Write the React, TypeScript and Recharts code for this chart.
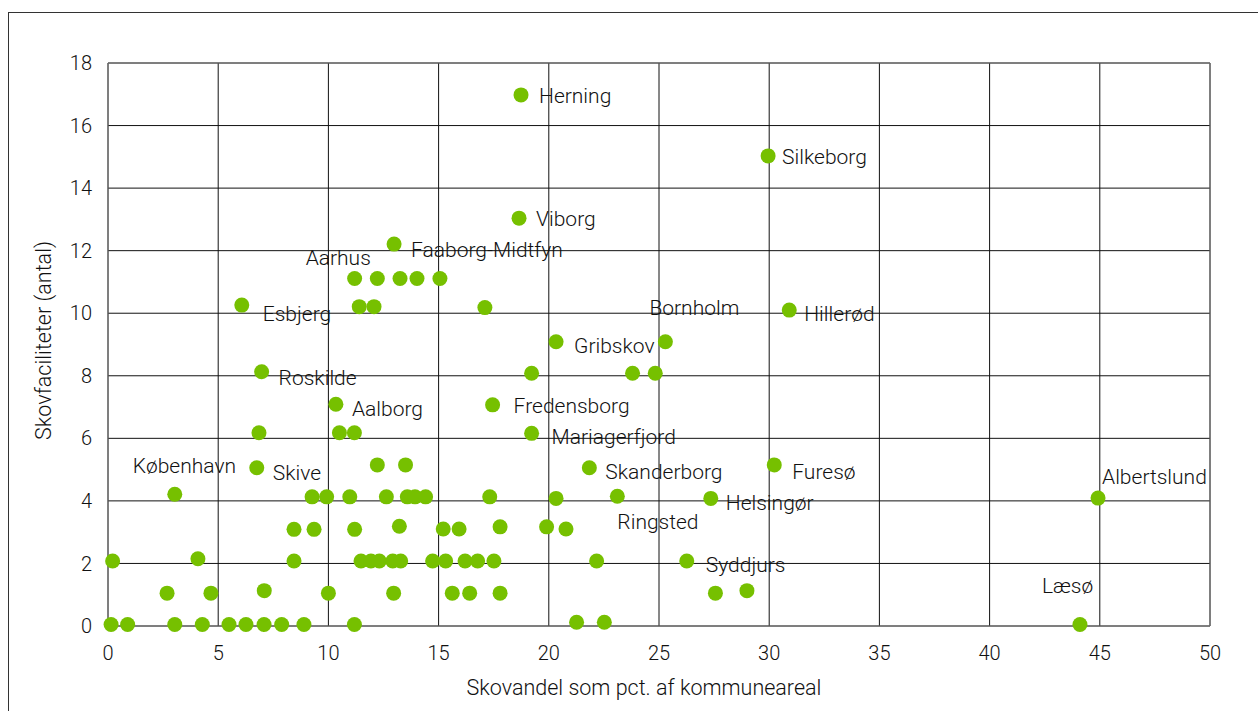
import React from 'react';
import { ScatterChart, Scatter, XAxis, YAxis, CartesianGrid, ReferenceLine, Label } from 'recharts';

// skovandel (pct. af kommuneareal)
const SHARE = [
  0.14, 0.89, 3.03, 4.28, 5.49, 6.26, 7.08, 7.88, 8.89, 11.18, 21.26, 22.52, 44.1,
  2.68, 4.67, 7.09, 10.0, 12.96, 15.62, 16.41, 17.79, 27.56, 28.99,
  0.21, 4.08, 8.44, 11.48, 11.93, 12.31, 12.92, 13.28, 14.73, 15.32, 16.2, 16.77, 17.51, 22.17, 26.26,
  8.44, 9.35, 11.19, 13.22, 15.21, 15.93, 17.79, 19.9, 20.78,
  3.03, 9.26, 9.92, 10.97, 12.63, 13.58, 13.93, 14.41, 17.32, 20.33, 23.11, 27.35, 44.92,
  6.75, 12.22, 13.5, 21.84, 30.23,
  6.85, 10.5, 11.18, 19.22,
  10.34, 17.45,
  6.97, 19.22, 23.8, 24.83,
  20.33, 25.29,
  6.07, 11.4, 12.07, 17.1, 30.91,
  11.19, 12.22, 13.25, 14.02, 15.06,
  12.98, 18.65, 29.95, 18.74,
];

// skovfaciliteter (antal)
const FACILITIES = [
  0.05, 0.05, 0.05, 0.05, 0.05, 0.05, 0.05, 0.05, 0.05, 0.05, 0.12, 0.12, 0.05,
  1.05, 1.05, 1.13, 1.05, 1.05, 1.05, 1.05, 1.05, 1.05, 1.13,
  2.08, 2.15, 2.08, 2.08, 2.08, 2.08, 2.08, 2.08, 2.08, 2.08, 2.08, 2.08, 2.08, 2.08, 2.08,
  3.09, 3.09, 3.09, 3.19, 3.1, 3.1, 3.17, 3.17, 3.1,
  4.21, 4.13, 4.13, 4.13, 4.13, 4.13, 4.13, 4.13, 4.13, 4.08, 4.15, 4.08, 4.09,
  5.06, 5.15, 5.15, 5.06, 5.15,
  6.18, 6.18, 6.18, 6.16,
  7.09, 7.07,
  8.13, 8.08, 8.08, 8.08,
  9.09, 9.09,
  10.26, 10.21, 10.21, 10.18, 10.1,
  11.11, 11.11, 11.11, 11.11, 11.11,
  12.21, 13.04, 15.03, 16.98,
];

const KOMMUNE = [
  '', '', '', '', '', '', '', '', '', '', '', '', 'Læsø',
  '', '', '', '', '', '', '', '', '', '',
  '', '', '', '', '', '', '', '', '', '', '', '', '', '', 'Syddjurs',
  '', '', '', '', '', '', '', '', '',
  'København', '', '', '', '', '', '', '', '', '', 'Ringsted', 'Helsingør', 'Albertslund',
  'Skive', '', '', 'Skanderborg', 'Furesø',
  '', '', '', 'Mariagerfjord',
  'Aalborg', 'Fredensborg',
  'Roskilde', '', '', '',
  'Gribskov', 'Bornholm',
  'Esbjerg', '', '', '', 'Hillerød',
  'Aarhus', '', '', '', '',
  'Faaborg-Midtfyn', 'Viborg', 'Silkeborg', 'Herning',
];

const X_TICKS = [0, 5, 10, 15, 20, 25, 30, 35, 40, 45, 50];
const Y_TICKS = [0, 2, 4, 6, 8, 10, 12, 14, 16, 18];

// label placement relative to the dot (px)
const LABEL_OFFSET: Record<string, [number, number]> = {
  'Læsø': [-38, -31],
  Syddjurs: [19, 11],
  'København': [-42, -21],
  Ringsted: [0, 33],
  'Helsingør': [15, 12],
  Albertslund: [4, -14],
  Skive: [16, 12],
  Skanderborg: [16, 11],
  'Furesø': [18, 14],
  Mariagerfjord: [20, 11],
  Aalborg: [16, 12],
  Fredensborg: [21, 8],
  Roskilde: [17, 13],
  Gribskov: [18, 11],
  Bornholm: [-16, -27],
  Esbjerg: [21, 16],
  'Hillerød': [15, 11],
  Aarhus: [-49, -14],
  'Faaborg-Midtfyn': [17, 13],
  Viborg: [17, 8],
  Silkeborg: [14, 8],
  Herning: [18, 8],
};

const GREEN = '#76c000';
const FONT = 'Roboto, "DejaVu Sans", sans-serif';
const TEXT = '#111';

const data = SHARE.map((x, i) => ({ x, y: FACILITIES[i], name: KOMMUNE[i] }));
const named = data.filter(d => d.name);

const Dot = (props: any) => <circle cx={props.cx} cy={props.cy} r={7.5} fill={GREEN} />;

const NameTag = (props: any) => {
  const [dx, dy] = LABEL_OFFSET[props.payload.name] ?? [14, 8];
  return (
    <text
      x={props.cx + dx}
      y={props.cy + dy}
      fontSize={21}
      fontWeight={300}
      fontFamily={FONT}
      fill={TEXT}
    >
      {props.payload.name}
    </text>
  );
};

export default function App() {
  return (
    <div
      style={{
        position: 'fixed',
        left: 8,
        top: 12,
        width: 1250,
        height: 699,
        borderTop: '1px solid #333',
        borderLeft: '1px solid #333',
        background: '#fff',
        overflow: 'hidden',
      }}
    >
      <ScatterChart width={1249} height={698} margin={{ top: 50, right: 48, bottom: 0, left: 0 }}>
        <CartesianGrid stroke="#111" strokeWidth={1} />
        <XAxis
          type="number"
          dataKey="x"
          domain={[0, 50]}
          ticks={X_TICKS}
          interval={0}
          height={85}
          tickLine={false}
          tickSize={0}
          tickMargin={20}
          axisLine={{ stroke: '#777' }}
          tick={{ fill: TEXT, fontSize: 20, fontFamily: FONT, fontWeight: 300 }}
        >
          <Label
            content={({ viewBox }: any) => (
              <text
                x={viewBox.x + viewBox.width / 2 - 15}
                y={viewBox.y + 69}
                textAnchor="middle"
                fontSize={21.5}
                fontWeight={300}
                fontFamily={FONT}
                fill={TEXT}
              >
                Skovandel som pct. af kommuneareal
              </text>
            )}
          />
        </XAxis>
        <YAxis
          type="number"
          dataKey="y"
          domain={[0, 18]}
          ticks={Y_TICKS}
          interval={0}
          width={99}
          tickLine={false}
          tickSize={0}
          tickMargin={16}
          axisLine={{ stroke: '#777' }}
          tick={{ fill: TEXT, fontSize: 20, fontFamily: FONT, fontWeight: 300 }}
        >
          <Label
            content={({ viewBox }: any) => {
              const cx = viewBox.x + 42;
              const cy = viewBox.y + viewBox.height / 2 - 4;
              return (
                <text
                  x={cx}
                  y={cy}
                  transform={`rotate(-90 ${cx} ${cy})`}
                  textAnchor="middle"
                  fontSize={21.5}
                  fontWeight={300}
                  fontFamily={FONT}
                  fill={TEXT}
                >
                  Skovfaciliteter (antal)
                </text>
              );
            }}
          />
        </YAxis>
        <ReferenceLine y={18} stroke="#777" />
        <ReferenceLine x={50} stroke="#777" />
        <Scatter data={data} shape={Dot} isAnimationActive={false} />
        <Scatter data={named} shape={NameTag} isAnimationActive={false} />
      </ScatterChart>
    </div>
  );
}
